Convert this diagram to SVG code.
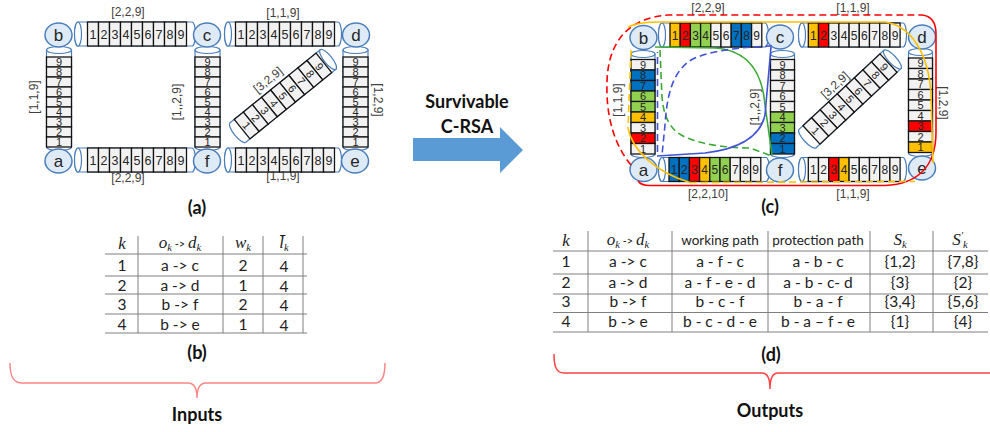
<svg xmlns="http://www.w3.org/2000/svg" width="990" height="432" viewBox="0 0 990 432">
<style>
.slot{fill:#F2F2F2;stroke:#141414;stroke-width:1.3}
.o{fill:#FFC000}.r{fill:#FF0000}.g{fill:#92D050}.b{fill:#0070C0}
.dg{font-family:"Liberation Sans",Arial,sans-serif;font-size:12.5px;fill:#262626;text-anchor:middle}
.dr{font-family:"Liberation Sans",Arial,sans-serif;font-size:12px;fill:#262626;text-anchor:middle}
.dv{font-family:"Liberation Sans",Arial,sans-serif;font-size:11px;fill:#262626;text-anchor:middle}
.cyl{fill:#fff;stroke:#4A7EBB;stroke-width:1.2}
.nd{fill:#DEEBF7;stroke:#4A7EBB;stroke-width:1.5}
.nl{font-family:"Liberation Sans",Arial,sans-serif;font-size:17px;fill:#262626;text-anchor:middle}
.lb{font-family:"Liberation Sans",Arial,sans-serif;font-size:12px;fill:#404040;text-anchor:middle}
.cap{font-family:Lato,"Liberation Sans",sans-serif;font-weight:bold;font-size:18px;fill:#111;text-anchor:middle}
.tl{stroke:#7F7F7F;stroke-width:1;fill:none}
.tt{font-family:Lato,"Liberation Sans",sans-serif;font-size:15.5px;fill:#222;text-anchor:middle}
.th{font-family:Lato,"Liberation Sans",sans-serif;font-size:13.5px;fill:#222;text-anchor:middle}
.mi{font-family:"Liberation Serif",serif;font-style:italic;font-size:17px;fill:#222;text-anchor:middle}
.sub{font-size:10.5px}
.p{fill:none;stroke-width:1.6}
.dash{stroke-dasharray:7 4}
.br{fill:none;stroke-width:1.5}
</style>
<defs>
  <!-- horizontal strip of 9 slots (left network) -->
  <g id="hs">
    <rect class="slot" x="0" y="0" width="11" height="24"/><rect class="slot" x="11" y="0" width="11" height="24"/><rect class="slot" x="22" y="0" width="11" height="24"/>
    <rect class="slot" x="33" y="0" width="11" height="24"/><rect class="slot" x="44" y="0" width="11" height="24"/><rect class="slot" x="55" y="0" width="11" height="24"/>
    <rect class="slot" x="66" y="0" width="11" height="24"/><rect class="slot" x="77" y="0" width="11" height="24"/><rect class="slot" x="88" y="0" width="11" height="24"/>
    <text class="dg" x="5.5" y="16.8">1</text><text class="dg" x="16.5" y="16.8">2</text><text class="dg" x="27.5" y="16.8">3</text>
    <text class="dg" x="38.5" y="16.8">4</text><text class="dg" x="49.5" y="16.8">5</text><text class="dg" x="60.5" y="16.8">6</text>
    <text class="dg" x="71.5" y="16.8">7</text><text class="dg" x="82.5" y="16.8">8</text><text class="dg" x="93.5" y="16.8">9</text>
  </g>
  <!-- vertical strip of 9 slots, slot 9 on top (left network) -->
  <g id="vs">
    <rect class="slot" x="0" y="0" width="25" height="10"/><rect class="slot" x="0" y="10" width="25" height="10"/><rect class="slot" x="0" y="20" width="25" height="10"/>
    <rect class="slot" x="0" y="30" width="25" height="10"/><rect class="slot" x="0" y="40" width="25" height="10"/><rect class="slot" x="0" y="50" width="25" height="10"/>
    <rect class="slot" x="0" y="60" width="25" height="10"/><rect class="slot" x="0" y="70" width="25" height="10"/><rect class="slot" x="0" y="80" width="25" height="10"/>
    <text class="dv" x="12.5" y="9">9</text><text class="dv" x="12.5" y="19">8</text><text class="dv" x="12.5" y="29">7</text>
    <text class="dv" x="12.5" y="39">6</text><text class="dv" x="12.5" y="49">5</text><text class="dv" x="12.5" y="59">4</text>
    <text class="dv" x="12.5" y="69">3</text><text class="dv" x="12.5" y="79">2</text><text class="dv" x="12.5" y="89">1</text>
  </g>
  <!-- diagonal link (d to f), drawn upright and rotated where used -->
  <g id="ds">
    <path class="cyl" d="M-12.5,-58 V58 A12.5,4 0 0 0 12.5,58 V-58 Z"/>
    <ellipse class="cyl" cx="0" cy="-58" rx="12.5" ry="4"/>
    <rect class="slot" x="-12.5" y="-52.65" width="25" height="11.7"/><rect class="slot" x="-12.5" y="-40.95" width="25" height="11.7"/><rect class="slot" x="-12.5" y="-29.25" width="25" height="11.7"/>
    <rect class="slot" x="-12.5" y="-17.55" width="25" height="11.7"/><rect class="slot" x="-12.5" y="-5.85" width="25" height="11.7"/><rect class="slot" x="-12.5" y="5.85" width="25" height="11.7"/>
    <rect class="slot" x="-12.5" y="17.55" width="25" height="11.7"/><rect class="slot" x="-12.5" y="29.25" width="25" height="11.7"/><rect class="slot" x="-12.5" y="40.95" width="25" height="11.7"/>
    <text class="dv" x="0" y="-42.9">9</text><text class="dv" x="0" y="-31.2">8</text><text class="dv" x="0" y="-19.5">7</text>
    <text class="dv" x="0" y="-7.8">6</text><text class="dv" x="0" y="3.9">5</text><text class="dv" x="0" y="15.6">4</text>
    <text class="dv" x="0" y="27.3">3</text><text class="dv" x="0" y="39">2</text><text class="dv" x="0" y="50.7">1</text>
  </g>
</defs>

<!-- ===== (a) input network ===== -->
<g id="net-a">
  <g id="a-link-bc">
    <path class="cyl" d="M78,22 H192 A3.5,12 0 0 1 192,46 H78 A3.5,12 0 0 1 78,22 Z"/><ellipse class="cyl" cx="78" cy="34" rx="3.5" ry="12"/>
    <use href="#hs" transform="translate(87.5,22)"/>
  </g>
  <g id="a-link-cd">
    <path class="cyl" d="M228,22 H338 A3.5,12 0 0 1 338,46 H228 A3.5,12 0 0 1 228,22 Z"/><ellipse class="cyl" cx="228" cy="34" rx="3.5" ry="12"/>
    <use href="#hs" transform="translate(235.5,22)"/>
  </g>
  <g id="a-link-af">
    <path class="cyl" d="M78,148 H192 A3.5,12 0 0 1 192,172 H78 A3.5,12 0 0 1 78,148 Z"/><ellipse class="cyl" cx="78" cy="160" rx="3.5" ry="12"/>
    <use href="#hs" transform="translate(87.5,148)"/>
  </g>
  <g id="a-link-fe">
    <path class="cyl" d="M228,148 H338 A3.5,12 0 0 1 338,172 H228 A3.5,12 0 0 1 228,148 Z"/><ellipse class="cyl" cx="228" cy="160" rx="3.5" ry="12"/>
    <use href="#hs" transform="translate(235.5,148)"/>
  </g>
  <g id="a-link-ab">
    <path class="cyl" d="M46.5,50 V147 A12.5,3.5 0 0 0 71.5,147 V50 Z"/><ellipse class="cyl" cx="59" cy="50" rx="12.5" ry="3.5"/>
    <use href="#vs" transform="translate(46.5,57)"/>
  </g>
  <g id="a-link-cf">
    <path class="cyl" d="M195,50 V147 A12.5,3.5 0 0 0 220,147 V50 Z"/><ellipse class="cyl" cx="207.5" cy="50" rx="12.5" ry="3.5"/>
    <use href="#vs" transform="translate(195,57)"/>
  </g>
  <g id="a-link-de">
    <path class="cyl" d="M343,50 V147 A12.5,3.5 0 0 0 368,147 V50 Z"/><ellipse class="cyl" cx="355.5" cy="50" rx="12.5" ry="3.5"/>
    <use href="#vs" transform="translate(343,57)"/>
  </g>
  <g id="a-link-df">
    <use href="#ds" transform="translate(283,96) rotate(51)"/>
  </g>

  <g id="a-node-b"><ellipse class="nd" cx="58.5" cy="35" rx="13.5" ry="12"/><text class="nl" x="58.5" y="41">b</text></g>
  <g id="a-node-a"><ellipse class="nd" cx="58.5" cy="161" rx="13.5" ry="12"/><text class="nl" x="58.5" y="167">a</text></g>
  <g id="a-node-c"><ellipse class="nd" cx="207" cy="35" rx="13.5" ry="12"/><text class="nl" x="207" y="41">c</text></g>
  <g id="a-node-f"><ellipse class="nd" cx="207" cy="161" rx="13.5" ry="12"/><text class="nl" x="207" y="167">f</text></g>
  <g id="a-node-d"><ellipse class="nd" cx="356" cy="35" rx="13.5" ry="12"/><text class="nl" x="356" y="41">d</text></g>
  <g id="a-node-e"><ellipse class="nd" cx="355" cy="161" rx="13.5" ry="12"/><text class="nl" x="355" y="167">e</text></g>

  <g id="a-labels">
    <text class="lb" x="128" y="16">[2,2,9]</text>
    <text class="lb" x="283" y="17">[1,1,9]</text>
    <text class="lb" x="128" y="182">[2,2,9]</text>
    <text class="lb" x="283" y="180">[1,1,9]</text>
    <text class="lb" transform="translate(38,97) rotate(-90)">[1,1,9]</text>
    <text class="lb" transform="translate(181,102) rotate(-90)">[1,,2,9]</text>
    <text class="lb" transform="translate(374,100) rotate(90)">[1,2,9]</text>
    <text class="lb" transform="translate(270.5,83) rotate(-39)">[3,2,9]</text>
  </g>
</g>
<text class="cap" x="197" y="214">(a)</text>

<!-- ===== arrow ===== -->
<g id="arrow">
  <polygon points="413,138 500,138 500,127 523,150 500,173 500,161 413,161" fill="#5B9BD5"/>
  <text class="cap" x="467" y="108" font-size="19">Survivable</text>
  <text class="cap" x="467" y="133" font-size="19">C-RSA</text>
</g>

<!-- ===== (c) output network with assigned slots ===== -->
<g id="net-c">
  <g id="c-link-bc">
    <path class="cyl" d="M662,23 H765 A3.5,12 0 0 1 765,47 H662 A3.5,12 0 0 1 662,23 Z"/><ellipse class="cyl" cx="662" cy="35" rx="3.5" ry="12"/>
    <g transform="translate(670,23)">
      <rect class="slot o" x="0" y="0" width="10.2" height="24"/><rect class="slot r" x="10.2" y="0" width="10.2" height="24"/><rect class="slot g" x="20.4" y="0" width="10.2" height="24"/>
      <rect class="slot g" x="30.6" y="0" width="10.2" height="24"/><rect class="slot" x="40.8" y="0" width="10.2" height="24"/><rect class="slot" x="51" y="0" width="10.2" height="24"/>
      <rect class="slot b" x="61.2" y="0" width="10.2" height="24"/><rect class="slot b" x="71.4" y="0" width="10.2" height="24"/><rect class="slot" x="81.6" y="0" width="10.2" height="24"/>
      <text class="dr" x="5.1" y="16.5">1</text><text class="dr" x="15.3" y="16.5">2</text><text class="dr" x="25.5" y="16.5">3</text>
      <text class="dr" x="35.7" y="16.5">4</text><text class="dr" x="45.9" y="16.5">5</text><text class="dr" x="56.1" y="16.5">6</text>
      <text class="dr" x="66.3" y="16.5">7</text><text class="dr" x="76.5" y="16.5">8</text><text class="dr" x="86.7" y="16.5">9</text>
    </g>
  </g>
  <g id="c-link-cd">
    <path class="cyl" d="M802,23 H903 A3.5,12 0 0 1 903,47 H802 A3.5,12 0 0 1 802,23 Z"/><ellipse class="cyl" cx="802" cy="35" rx="3.5" ry="12"/>
    <g transform="translate(808.3,23)">
      <rect class="slot o" x="0" y="0" width="10.2" height="24"/><rect class="slot r" x="10.2" y="0" width="10.2" height="24"/><rect class="slot" x="20.4" y="0" width="10.2" height="24"/>
      <rect class="slot" x="30.6" y="0" width="10.2" height="24"/><rect class="slot" x="40.8" y="0" width="10.2" height="24"/><rect class="slot" x="51" y="0" width="10.2" height="24"/>
      <rect class="slot" x="61.2" y="0" width="10.2" height="24"/><rect class="slot" x="71.4" y="0" width="10.2" height="24"/><rect class="slot" x="81.6" y="0" width="10.2" height="24"/>
      <text class="dr" x="5.1" y="16.5">1</text><text class="dr" x="15.3" y="16.5">2</text><text class="dr" x="25.5" y="16.5">3</text>
      <text class="dr" x="35.7" y="16.5">4</text><text class="dr" x="45.9" y="16.5">5</text><text class="dr" x="56.1" y="16.5">6</text>
      <text class="dr" x="66.3" y="16.5">7</text><text class="dr" x="76.5" y="16.5">8</text><text class="dr" x="86.7" y="16.5">9</text>
    </g>
  </g>
  <g id="c-link-af">
    <path class="cyl" d="M662,157.5 H766 A3.5,12 0 0 1 766,181.5 H662 A3.5,12 0 0 1 662,157.5 Z"/><ellipse class="cyl" cx="662" cy="169.5" rx="3.5" ry="12"/>
    <g transform="translate(669,157.5)">
      <rect class="slot b" x="0" y="0" width="10.2" height="24"/><rect class="slot b" x="10.2" y="0" width="10.2" height="24"/><rect class="slot r" x="20.4" y="0" width="10.2" height="24"/>
      <rect class="slot o" x="30.6" y="0" width="10.2" height="24"/><rect class="slot g" x="40.8" y="0" width="10.2" height="24"/><rect class="slot g" x="51" y="0" width="10.2" height="24"/>
      <rect class="slot" x="61.2" y="0" width="10.2" height="24"/><rect class="slot" x="71.4" y="0" width="10.2" height="24"/><rect class="slot" x="81.6" y="0" width="10.2" height="24"/>
      <text class="dr" x="5.1" y="16.5">1</text><text class="dr" x="15.3" y="16.5">2</text><text class="dr" x="25.5" y="16.5">3</text>
      <text class="dr" x="35.7" y="16.5">4</text><text class="dr" x="45.9" y="16.5">5</text><text class="dr" x="56.1" y="16.5">6</text>
      <text class="dr" x="66.3" y="16.5">7</text><text class="dr" x="76.5" y="16.5">8</text><text class="dr" x="86.7" y="16.5">9</text>
    </g>
  </g>
  <g id="c-link-fe">
    <path class="cyl" d="M802,157.5 H903 A3.5,12 0 0 1 903,181.5 H802 A3.5,12 0 0 1 802,157.5 Z"/><ellipse class="cyl" cx="802" cy="169.5" rx="3.5" ry="12"/>
    <g transform="translate(808.3,157.5)">
      <rect class="slot" x="0" y="0" width="10.2" height="24"/><rect class="slot" x="10.2" y="0" width="10.2" height="24"/><rect class="slot r" x="20.4" y="0" width="10.2" height="24"/>
      <rect class="slot o" x="30.6" y="0" width="10.2" height="24"/><rect class="slot" x="40.8" y="0" width="10.2" height="24"/><rect class="slot" x="51" y="0" width="10.2" height="24"/>
      <rect class="slot" x="61.2" y="0" width="10.2" height="24"/><rect class="slot" x="71.4" y="0" width="10.2" height="24"/><rect class="slot" x="81.6" y="0" width="10.2" height="24"/>
      <text class="dr" x="5.1" y="16.5">1</text><text class="dr" x="15.3" y="16.5">2</text><text class="dr" x="25.5" y="16.5">3</text>
      <text class="dr" x="35.7" y="16.5">4</text><text class="dr" x="45.9" y="16.5">5</text><text class="dr" x="56.1" y="16.5">6</text>
      <text class="dr" x="66.3" y="16.5">7</text><text class="dr" x="76.5" y="16.5">8</text><text class="dr" x="86.7" y="16.5">9</text>
    </g>
  </g>
  <g id="c-link-ab">
    <path class="cyl" d="M631,54 V154 A12,3.5 0 0 0 655,154 V54 Z"/><ellipse class="cyl" cx="643" cy="54" rx="12" ry="3.5"/>
    <g transform="translate(631,59.5)">
      <rect class="slot" x="0" y="0" width="24" height="10.5"/><rect class="slot b" x="0" y="10.5" width="24" height="10.5"/><rect class="slot b" x="0" y="21" width="24" height="10.5"/>
      <rect class="slot g" x="0" y="31.5" width="24" height="10.5"/><rect class="slot g" x="0" y="42" width="24" height="10.5"/><rect class="slot o" x="0" y="52.5" width="24" height="10.5"/>
      <rect class="slot" x="0" y="63" width="24" height="10.5"/><rect class="slot r" x="0" y="73.5" width="24" height="10.5"/><rect class="slot" x="0" y="84" width="24" height="10.5"/>
      <text class="dv" x="12" y="9.2">9</text><text class="dv" x="12" y="19.7">8</text><text class="dv" x="12" y="30.2">7</text>
      <text class="dv" x="12" y="40.7">6</text><text class="dv" x="12" y="51.2">5</text><text class="dv" x="12" y="61.7">4</text>
      <text class="dv" x="12" y="72.2">3</text><text class="dv" x="12" y="82.7">2</text><text class="dv" x="12" y="93.2">1</text>
    </g>
  </g>
  <g id="c-link-cf">
    <path class="cyl" d="M770.5,54 V154 A12,3.5 0 0 0 794.5,154 V54 Z"/><ellipse class="cyl" cx="782.5" cy="54" rx="12" ry="3.5"/>
    <g transform="translate(770.5,59.5)">
      <rect class="slot" x="0" y="0" width="24" height="10.5"/><rect class="slot" x="0" y="10.5" width="24" height="10.5"/><rect class="slot" x="0" y="21" width="24" height="10.5"/>
      <rect class="slot" x="0" y="31.5" width="24" height="10.5"/><rect class="slot" x="0" y="42" width="24" height="10.5"/><rect class="slot g" x="0" y="52.5" width="24" height="10.5"/>
      <rect class="slot g" x="0" y="63" width="24" height="10.5"/><rect class="slot b" x="0" y="73.5" width="24" height="10.5"/><rect class="slot b" x="0" y="84" width="24" height="10.5"/>
      <text class="dv" x="12" y="9.2">9</text><text class="dv" x="12" y="19.7">8</text><text class="dv" x="12" y="30.2">7</text>
      <text class="dv" x="12" y="40.7">6</text><text class="dv" x="12" y="51.2">5</text><text class="dv" x="12" y="61.7">4</text>
      <text class="dv" x="12" y="72.2">3</text><text class="dv" x="12" y="82.7">2</text><text class="dv" x="12" y="93.2">1</text>
    </g>
  </g>
  <g id="c-link-de">
    <path class="cyl" d="M908.5,52 V153 A12,3.5 0 0 0 932.5,153 V52 Z"/><ellipse class="cyl" cx="920.5" cy="52" rx="12" ry="3.5"/>
    <g transform="translate(908.5,58)">
      <rect class="slot" x="0" y="0" width="24" height="10.5"/><rect class="slot" x="0" y="10.5" width="24" height="10.5"/><rect class="slot" x="0" y="21" width="24" height="10.5"/>
      <rect class="slot" x="0" y="31.5" width="24" height="10.5"/><rect class="slot" x="0" y="42" width="24" height="10.5"/><rect class="slot" x="0" y="52.5" width="24" height="10.5"/>
      <rect class="slot r" x="0" y="63" width="24" height="10.5"/><rect class="slot" x="0" y="73.5" width="24" height="10.5"/><rect class="slot o" x="0" y="84" width="24" height="10.5"/>
      <text class="dv" x="12" y="9.2">9</text><text class="dv" x="12" y="19.7">8</text><text class="dv" x="12" y="30.2">7</text>
      <text class="dv" x="12" y="40.7">6</text><text class="dv" x="12" y="51.2">5</text><text class="dv" x="12" y="61.7">4</text>
      <text class="dv" x="12" y="72.2">3</text><text class="dv" x="12" y="82.7">2</text><text class="dv" x="12" y="93.2">1</text>
    </g>
  </g>
  <g id="c-link-df">
    <use href="#ds" transform="translate(850,99) rotate(47)"/>
  </g>

  <g id="c-node-b"><ellipse class="nd" cx="643.5" cy="37.5" rx="13.5" ry="12"/><text class="nl" x="643.5" y="43.5">b</text></g>
  <g id="c-node-a"><ellipse class="nd" cx="643.5" cy="169.5" rx="13.5" ry="12"/><text class="nl" x="643.5" y="175.5">a</text></g>
  <g id="c-node-c"><ellipse class="nd" cx="780" cy="37" rx="13.5" ry="12"/><text class="nl" x="780" y="43">c</text></g>
  <g id="c-node-f"><ellipse class="nd" cx="780" cy="170" rx="13.5" ry="12"/><text class="nl" x="780" y="176">f</text></g>
  <g id="c-node-d"><ellipse class="nd" cx="922" cy="37" rx="13.5" ry="12"/><text class="nl" x="922" y="43">d</text></g>
  <g id="c-node-e"><ellipse class="nd" cx="922" cy="168" rx="13.5" ry="12"/><text class="nl" x="922" y="174">e</text></g>

  <g id="c-labels">
    <text class="lb" x="708" y="11.5">[2,2,9]</text>
    <text class="lb" x="853" y="11.5">[1,1,9]</text>
    <text class="lb" x="708" y="198">[2,2,10]</text>
    <text class="lb" x="853" y="198">[1,1,9]</text>
    <text class="lb" transform="translate(622,100) rotate(-90)">[1,1,9]</text>
    <text class="lb" transform="translate(759,107) rotate(-90)">[1,,2,9]</text>
    <text class="lb" transform="translate(939,103) rotate(90)">[1,2,9]</text>
    <text class="lb" transform="translate(837.7,88) rotate(-43)">[3,2,9]</text>
  </g>

  <!-- lightpaths: solid = working, dashed = protection -->
  <g id="paths">
    <path class="p dash" stroke="#FF0000" d="M631,165 C612,142 606,112 607,82 C608,42 628,18 668,15 L922,15"/>
    <path class="p" stroke="#FF0000" d="M922,15 C931,16 936,22 936,34 L936,132 C936,166 918,184 885,185.5 L650,185.5 C644,185.5 640,184 638,181"/>
    <path class="p" stroke="#FFC000" d="M628,27 C636,23 645,22 660,22 L885,22 C912,26 929,55 931,95 L933,163"/>
    <path class="p dash" stroke="#FFC000" d="M631,50 L628,128 M690,182.5 L915,181.5"/>
    <path class="p" stroke="#FFC000" d="M628,128 C632,150 655,172 690,182.5"/>
    <path class="p" stroke="#3BAA35" d="M655,47 L715,48 C745,50 762,68 765,105 L772,155"/>
    <path class="p dash" stroke="#3BAA35" d="M660,50 L662,97 C664,120 672,133 690,139 C705,145 730,148 750,148 L772,156"/>
    <path class="p dash" stroke="#4052D6" d="M772,46 C745,47 705,50 688,62 C672,75 667,95 665,125 L662,155 M657.5,152 L657.5,52"/>
    <path class="p" stroke="#4052D6" d="M657,156 L705,153 C738,149 760,138 765,115 L771,47"/>
  </g>
</g>
<text class="cap" x="770" y="213">(c)</text>

<!-- ===== (b) demand table ===== -->
<g id="table-b">
  <line class="tl" x1="105" y1="254" x2="307" y2="254"/>
  <line class="tl" x1="105" y1="276" x2="307" y2="276"/>
  <line class="tl" x1="105" y1="294" x2="307" y2="294"/>
  <line class="tl" x1="105" y1="314" x2="307" y2="314"/>
  <line class="tl" x1="105" y1="333" x2="307" y2="333"/>
  <line class="tl" x1="138" y1="236" x2="138" y2="333"/>
  <line class="tl" x1="223" y1="236" x2="223" y2="333"/>
  <line class="tl" x1="263" y1="236" x2="263" y2="333"/>
  <line class="tl" x1="303" y1="236" x2="303" y2="333"/>
  <text class="mi" x="122" y="249">k</text>
  <text class="mi" x="180" y="248" font-size="14"><tspan>o</tspan><tspan class="sub" dy="3">k</tspan><tspan dy="-3" font-style="normal" font-family="Lato,sans-serif" font-size="11"> -&gt; </tspan><tspan>d</tspan><tspan class="sub" dy="3">k</tspan></text>
  <text class="mi" x="243" y="248" font-size="15"><tspan>w</tspan><tspan class="sub" dy="3">k</tspan></text>
  <text class="mi" x="284" y="248" font-size="16"><tspan>l̄</tspan><tspan class="sub" dy="3">k</tspan></text>
  <text class="tt" x="122" y="271">1</text><text class="tt" x="180" y="271">a -&gt; c</text><text class="tt" x="243" y="271">2</text><text class="tt" x="284" y="271.5">4</text>
  <text class="tt" x="122" y="290.5">2</text><text class="tt" x="180" y="290.5">a -&gt; d</text><text class="tt" x="243" y="290.5">1</text><text class="tt" x="284" y="291.5">4</text>
  <text class="tt" x="122" y="310">3</text><text class="tt" x="180" y="310">b -&gt; f</text><text class="tt" x="243" y="310">2</text><text class="tt" x="284" y="311">4</text>
  <text class="tt" x="122" y="329.5">4</text><text class="tt" x="180" y="329.5">b -&gt; e</text><text class="tt" x="243" y="329.5">1</text><text class="tt" x="284" y="330.5">4</text>
</g>
<text class="cap" x="197" y="359">(b)</text>

<!-- ===== (d) result table ===== -->
<g id="table-d">
  <line class="tl" x1="553" y1="251" x2="988" y2="251"/>
  <line class="tl" x1="553" y1="274" x2="988" y2="274"/>
  <line class="tl" x1="553" y1="294" x2="988" y2="294"/>
  <line class="tl" x1="553" y1="312.5" x2="988" y2="312.5"/>
  <line class="tl" x1="553" y1="332" x2="988" y2="332"/>
  <line class="tl" x1="588" y1="231" x2="588" y2="332"/>
  <line class="tl" x1="672" y1="231" x2="672" y2="332"/>
  <line class="tl" x1="768" y1="231" x2="768" y2="332"/>
  <line class="tl" x1="870" y1="231" x2="870" y2="332"/>
  <line class="tl" x1="933" y1="231" x2="933" y2="332"/>
  <text class="mi" x="566" y="246">k</text>
  <text class="mi" x="628" y="245" font-size="14"><tspan>o</tspan><tspan class="sub" dy="3">k</tspan><tspan dy="-3" font-style="normal" font-family="Lato,sans-serif" font-size="11"> -&gt; </tspan><tspan>d</tspan><tspan class="sub" dy="3">k</tspan></text>
  <text class="th" x="720" y="245">working path</text>
  <text class="th" x="818" y="245">protection path</text>
  <text class="mi" x="900" y="245" font-size="15"><tspan>S</tspan><tspan class="sub" dy="3">k</tspan></text>
  <text class="mi" x="960" y="245" font-size="15"><tspan>S</tspan><tspan class="sub" dy="-6">′</tspan><tspan class="sub" dy="9">k</tspan></text>
  <text class="tt" x="566" y="267">1</text><text class="tt" x="628" y="267">a -&gt; c</text><text class="tt" x="720" y="266.5">a - f - c</text><text class="tt" x="818" y="267">a - b - c</text><text class="tt" x="900" y="266.5">{1,2}</text><text class="tt" x="963" y="266.5">{7,8}</text>
  <text class="tt" x="566" y="287.5">2</text><text class="tt" x="628" y="287.5">a -&gt; d</text><text class="tt" x="720" y="287.5">a - f - e - d</text><text class="tt" x="818" y="287.5">a - b - c- d</text><text class="tt" x="900" y="287.5">{3}</text><text class="tt" x="963" y="287.5">{2}</text>
  <text class="tt" x="566" y="307">3</text><text class="tt" x="628" y="307">b -&gt; f</text><text class="tt" x="720" y="307">b - c - f</text><text class="tt" x="818" y="307">b - a - f</text><text class="tt" x="900" y="307">{3,4}</text><text class="tt" x="963" y="307">{5,6}</text>
  <text class="tt" x="566" y="326.5">4</text><text class="tt" x="628" y="326.5">b -&gt; e</text><text class="tt" x="720" y="326.5">b - c - d - e</text><text class="tt" x="818" y="326.5">b - a – f - e</text><text class="tt" x="900" y="326.5">{1}</text><text class="tt" x="963" y="326.5">{4}</text>
</g>
<text class="cap" x="771" y="361">(d)</text>

<!-- ===== braces ===== -->
<path class="br" stroke="#FF8585" d="M10,363 C10,376 13,383 22,383 L188,383 C194,383 197,387 197,398 C197,387 200,383 206,383 L375,383 C382,383 385,376 385,363"/>
<text class="cap" x="197" y="421" font-size="17">Inputs</text>
<path class="br" stroke="#FF4040" d="M554,354 C554,366 556,373 564,373 L762,373 C767,373 770,378 770,389 C770,378 773,373 778,373 L990,373"/>
<text class="cap" x="770" y="417" font-size="17">Outputs</text>
</svg>
